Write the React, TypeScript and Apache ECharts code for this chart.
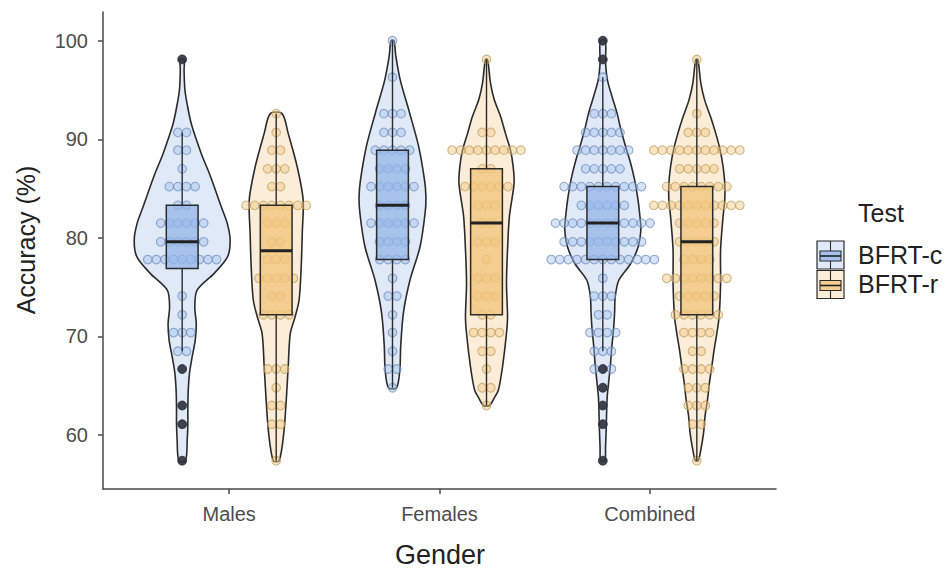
import React, { useEffect, useRef } from 'react';
import * as echarts from 'echarts';

// ---------------- data ----------------
const categories = ['Males', 'Females', 'Combined'];
const tests = ['BFRT-c', 'BFRT-r'];
const yTicks = [60, 70, 80, 90, 100];

// violin outlines: [accuracy %, half width in category units]
const violinMalesC = [[98.1, 0.009], [97.0, 0.009], [95.0, 0.013], [93.3, 0.026], [91.6, 0.043], [90.0, 0.067], [88.3, 0.095], [86.6, 0.128], [84.9, 0.157], [83.2, 0.185], [81.5, 0.214], [79.8, 0.228], [78.1, 0.216], [76.4, 0.152], [74.7, 0.071], [73.0, 0.06], [71.3, 0.067], [69.6, 0.062], [68.0, 0.048], [66.3, 0.035], [64.6, 0.029], [62.9, 0.027], [61.2, 0.027], [59.5, 0.024], [57.4, 0.016]];
const violinMalesR = [[92.6, 0.028], [90.6, 0.057], [87.2, 0.1], [83.9, 0.128], [80.5, 0.124], [77.1, 0.119], [73.7, 0.109], [72.0, 0.09], [70.3, 0.067], [66.9, 0.057], [63.6, 0.048], [60.2, 0.036], [57.4, 0.014]];
const violinFemalesC = [[100, 0.007], [98.4, 0.016], [96.0, 0.037], [92.7, 0.081], [89.3, 0.124], [85.9, 0.152], [84.2, 0.159], [82.5, 0.155], [79.1, 0.131], [75.7, 0.083], [72.4, 0.052], [69.0, 0.039], [66.6, 0.035], [64.8, 0.019]];
const violinFemalesR = [[98.1, 0.005], [95.7, 0.019], [94.0, 0.037], [92.3, 0.067], [90.6, 0.09], [88.9, 0.114], [87.2, 0.127], [85.5, 0.131], [82.2, 0.109], [78.8, 0.1], [75.4, 0.095], [72.0, 0.1], [70.3, 0.095], [66.9, 0.076], [64.6, 0.057], [63.8, 0.038], [63.0, 0.014]];
const violinCombinedC = [[100, 0.012], [97.7, 0.013], [96.0, 0.022], [94.4, 0.043], [92.7, 0.067], [91.0, 0.086], [89.3, 0.108], [87.6, 0.132], [85.9, 0.151], [84.2, 0.165], [82.5, 0.175], [80.8, 0.181], [79.1, 0.168], [77.4, 0.133], [75.7, 0.076], [74.0, 0.059], [72.4, 0.056], [70.7, 0.051], [69.0, 0.043], [67.3, 0.037], [65.6, 0.029], [63.9, 0.021], [62.2, 0.018], [60.5, 0.016], [58.8, 0.013], [57.4, 0.01]];
const violinCombinedR = [[98.1, 0.005], [95.7, 0.019], [94.0, 0.037], [92.3, 0.065], [90.6, 0.09], [88.9, 0.111], [87.2, 0.125], [85.5, 0.133], [83.9, 0.133], [82.2, 0.125], [78.8, 0.113], [75.4, 0.113], [72.0, 0.106], [70.3, 0.095], [68.6, 0.082], [66.9, 0.071], [65.3, 0.06], [63.6, 0.051], [61.9, 0.039], [60.2, 0.032], [58.5, 0.019], [57.4, 0.007]];

// box stats: [lower whisker, Q1, median, Q3, upper whisker]
const boxMalesC = [68.5, 76.9, 79.6, 83.3, 90.7];
const boxMalesR = [57.4, 72.2, 78.7, 83.3, 92.6];
const boxFemalesC = [64.8, 77.8, 83.3, 88.9, 100];
const boxFemalesR = [63.0, 72.2, 81.5, 87.0, 98.1];
const boxCombinedC = [68.5, 77.8, 81.5, 85.2, 96.3];
const boxCombinedR = [57.4, 72.2, 79.6, 85.2, 98.1];

// outliers
const outMalesC = [98.1, 66.7, 63.0, 61.1, 57.4];
const outMalesR: number[] = [];
const outFemalesC: number[] = [];
const outFemalesR: number[] = [];
const outCombinedC = [100, 98.1, 66.7, 64.8, 63.0, 61.1, 57.4];
const outCombinedR: number[] = [];

// dot plot rows: [accuracy %, number of participants]
const dotsMalesC = [[98.1, 1], [90.7, 2], [88.9, 2], [87.0, 1], [85.2, 4], [83.3, 2], [81.5, 6], [79.6, 6], [77.8, 9], [74.1, 1], [72.2, 1], [70.4, 3], [68.5, 2], [66.7, 1], [63.0, 1], [61.1, 1], [57.4, 1]];
const dotsMalesR = [[92.6, 1], [90.7, 1], [88.9, 2], [87.0, 3], [85.2, 2], [83.3, 8], [81.5, 3], [79.6, 2], [77.8, 3], [75.9, 5], [74.1, 2], [72.2, 4], [66.7, 3], [64.8, 1], [63.0, 2], [61.1, 2], [57.4, 1]];
const dotsFemalesC = [[100, 1], [96.3, 1], [92.6, 3], [90.7, 3], [88.9, 5], [87.0, 4], [85.2, 6], [83.3, 4], [81.5, 6], [79.6, 4], [77.8, 4], [75.9, 1], [74.1, 2], [72.2, 1], [70.4, 1], [68.5, 1], [66.7, 2], [64.8, 1]];
const dotsFemalesR = [[98.1, 1], [90.7, 2], [88.9, 9], [87.0, 2], [85.2, 6], [83.3, 3], [81.5, 2], [79.6, 3], [77.8, 1], [75.9, 3], [74.1, 3], [72.2, 2], [70.4, 4], [68.5, 2], [66.7, 1], [64.8, 2], [63.0, 1]];
const dotsCombinedC = [[100, 1], [98.1, 1], [96.3, 1], [92.6, 3], [90.7, 5], [88.9, 7], [87.0, 5], [85.2, 10], [83.3, 6], [81.5, 12], [79.6, 10], [77.8, 13], [75.9, 1], [74.1, 3], [72.2, 2], [70.4, 4], [68.5, 3], [66.7, 3], [64.8, 1], [63.0, 1], [61.1, 1], [57.4, 1]];
const dotsCombinedR = [[98.1, 1], [92.6, 1], [90.7, 3], [88.9, 11], [87.0, 5], [85.2, 8], [83.3, 11], [81.5, 5], [79.6, 5], [77.8, 4], [75.9, 8], [74.1, 5], [72.2, 6], [70.4, 4], [68.5, 2], [66.7, 4], [64.8, 3], [63.0, 3], [61.1, 2], [57.4, 1]];

const violins = [[violinMalesC, violinMalesR], [violinFemalesC, violinFemalesR], [violinCombinedC, violinCombinedR]];
const boxes = [[boxMalesC, boxMalesR], [boxFemalesC, boxFemalesR], [boxCombinedC, boxCombinedR]];
const outliers = [[outMalesC, outMalesR], [outFemalesC, outFemalesR], [outCombinedC, outCombinedR]];
const dots = [[dotsMalesC, dotsMalesR], [dotsFemalesC, dotsFemalesR], [dotsCombinedC, dotsCombinedR]];

// ---------------- style ----------------
const FONT = "'Liberation Sans', Arial, Helvetica, sans-serif";
const violinFill = ['rgba(148,182,232,0.3)', 'rgba(242,197,124,0.3)'];
const boxFill = ['rgba(148,182,232,0.75)', 'rgba(242,197,124,0.78)'];
const dotFill = ['rgba(160,190,235,0.42)', 'rgba(242,200,130,0.45)'];
const dotStroke = ['rgba(105,135,185,0.7)', 'rgba(190,155,90,0.7)'];
const LINE = '#2b2b2b';
const DODGE = 0.2235;
const BOX_HALF = 0.0755;
const DOT_STEP = 8.6;
const DOT_R = 4.3;

type Item = { g: number; t: number; x: number };
const items: Item[] = [];
categories.forEach((_, g) => tests.forEach((__, t) => items.push({ g, t, x: g + 1 + (t === 0 ? -DODGE : DODGE) })));
const itemData = items.map((it) => [it.x, boxes[it.g][it.t][2]]);

function violinSeries() {
  return {
    type: 'custom', clip: false, silent: true, z: 1,
    data: itemData,
    renderItem: (params: any, api: any) => {
      const it = items[params.dataIndex];
      const prof = violins[it.g][it.t];
      const pts: number[][] = [];
      prof.forEach(([v, hw]) => pts.push(api.coord([it.x - hw, v])));
      for (let k = prof.length - 1; k >= 0; k--) pts.push(api.coord([it.x + prof[k][1], prof[k][0]]));
      return {
        type: 'polygon',
        shape: { points: pts, smooth: 0.3 },
        style: { fill: violinFill[it.t], stroke: LINE, lineWidth: 1.6 },
      };
    },
  };
}

function dotSeries() {
  return {
    type: 'custom', clip: false, silent: true, z: 2,
    data: itemData,
    renderItem: (params: any, api: any) => {
      const it = items[params.dataIndex];
      const children: any[] = [];
      dots[it.g][it.t].forEach(([v, n]) => {
        const c = api.coord([it.x, v]);
        for (let k = 0; k < n; k++) {
          const dx = (k - (n - 1) / 2) * DOT_STEP;
          children.push({
            type: 'circle',
            shape: { cx: c[0] + dx, cy: c[1], r: DOT_R },
            style: { fill: dotFill[it.t], stroke: dotStroke[it.t], lineWidth: 1.1 },
          });
        }
      });
      return { type: 'group', children };
    },
  };
}

function boxSeries() {
  return {
    type: 'custom', clip: false, silent: true, z: 3,
    data: itemData,
    renderItem: (params: any, api: any) => {
      const it = items[params.dataIndex];
      const [lo, q1, med, q3, hi] = boxes[it.g][it.t];
      const pLo = api.coord([it.x, lo]);
      const pHi = api.coord([it.x, hi]);
      const pQ1L = api.coord([it.x - BOX_HALF, q1]);
      const pQ3R = api.coord([it.x + BOX_HALF, q3]);
      const pMedL = api.coord([it.x - BOX_HALF, med]);
      const pMedR = api.coord([it.x + BOX_HALF, med]);
      const children: any[] = [
        { type: 'line', shape: { x1: pHi[0], y1: pHi[1], x2: pHi[0], y2: pQ3R[1] }, style: { stroke: LINE, lineWidth: 1.4 } },
        { type: 'line', shape: { x1: pLo[0], y1: pQ1L[1], x2: pLo[0], y2: pLo[1] }, style: { stroke: LINE, lineWidth: 1.4 } },
        {
          type: 'rect',
          shape: { x: pQ1L[0], y: pQ3R[1], width: pQ3R[0] - pQ1L[0], height: pQ1L[1] - pQ3R[1] },
          style: { fill: boxFill[it.t], stroke: LINE, lineWidth: 1.5 },
        },
        { type: 'line', shape: { x1: pMedL[0], y1: pMedL[1], x2: pMedR[0], y2: pMedR[1] }, style: { stroke: '#222', lineWidth: 3 } },
      ];
      outliers[it.g][it.t].forEach((v) => {
        const c = api.coord([it.x, v]);
        children.push({ type: 'circle', shape: { cx: c[0], cy: c[1], r: 4.4 }, style: { fill: 'rgba(40,40,45,0.85)', stroke: 'rgba(40,40,45,0.6)', lineWidth: 1 } });
      });
      return { type: 'group', children };
    },
  };
}

function legendGraphics() {
  const els: any[] = [];
  els.push({ type: 'text', left: 858, top: 200, style: { text: 'Test', font: `25px ${FONT}`, fill: '#222' } });
  tests.forEach((name, t) => {
    const x = 817, y = 241 + t * 29.5, w = 27, h = 28;
    const cx = x + w / 2;
    els.push({ type: 'rect', shape: { x, y, width: w, height: h }, style: { fill: violinFill[t], stroke: LINE, lineWidth: 1.2 } });
    els.push({ type: 'line', shape: { x1: cx, y1: y, x2: cx, y2: y + 10 }, style: { stroke: LINE, lineWidth: 1.1 } });
    els.push({ type: 'line', shape: { x1: cx, y1: y + 20, x2: cx, y2: y + h }, style: { stroke: LINE, lineWidth: 1.1 } });
    els.push({ type: 'rect', shape: { x: x + 3, y: y + 10, width: w - 6, height: 10 }, style: { fill: boxFill[t], stroke: LINE, lineWidth: 1.1 } });
    els.push({ type: 'line', shape: { x1: x + 3, y1: y + 15, x2: x + w - 3, y2: y + 15 }, style: { stroke: '#222', lineWidth: 1.6 } });
    els.push({ type: 'text', left: 858, top: y + 1, style: { text: name, font: `25px ${FONT}`, fill: '#222' } });
  });
  return els;
}

export default function App() {
  const ref = useRef<HTMLDivElement>(null);
  useEffect(() => {
    if (!ref.current) return;
    const chart = echarts.init(ref.current, undefined, { renderer: 'svg' });
    chart.setOption({
      animation: false,
      backgroundColor: '#ffffff',
      textStyle: { fontFamily: FONT },
      grid: { left: 103, right: 176, top: 12, bottom: 80, containLabel: false },
      xAxis: {
        type: 'value', min: 0.4, max: 3.6,
        splitLine: { show: false },
        axisLine: { show: true, lineStyle: { color: '#4a4a4a', width: 1.5 } },
        axisTick: { show: true, length: 5, customValues: [1, 2, 3], lineStyle: { color: '#4a4a4a', width: 1.5 } },
        axisLabel: {
          customValues: [1, 2, 3], margin: 15, fontSize: 20, color: '#4d4d4d', fontFamily: FONT,
          formatter: (v: number) => categories[Math.round(v) - 1] || '',
        },
      },
      yAxis: {
        type: 'value', min: 54.53, max: 102.91,
        splitLine: { show: false },
        axisLine: { show: true, lineStyle: { color: '#4a4a4a', width: 1.5 } },
        axisTick: { show: true, length: 5, customValues: yTicks, lineStyle: { color: '#4a4a4a', width: 1.5 } },
        axisLabel: { customValues: yTicks, margin: 15, fontSize: 20, color: '#4d4d4d', fontFamily: FONT },
      },
      graphic: [
        { type: 'text', x: 440, y: 555, style: { text: 'Gender', font: `27px ${FONT}`, fill: '#222', align: 'center', verticalAlign: 'middle' } },
        { type: 'text', x: 26, y: 240, rotation: Math.PI / 2, style: { text: 'Accuracy (%)', font: `25px ${FONT}`, fill: '#222', align: 'center', verticalAlign: 'middle' } },
        ...legendGraphics(),
      ],
      series: [violinSeries(), dotSeries(), boxSeries()],
    });
    return () => chart.dispose();
  }, []);
  return <div ref={ref} style={{ position: 'fixed', left: 0, top: 0, width: 952, height: 569, background: '#fff' }} />;
}
